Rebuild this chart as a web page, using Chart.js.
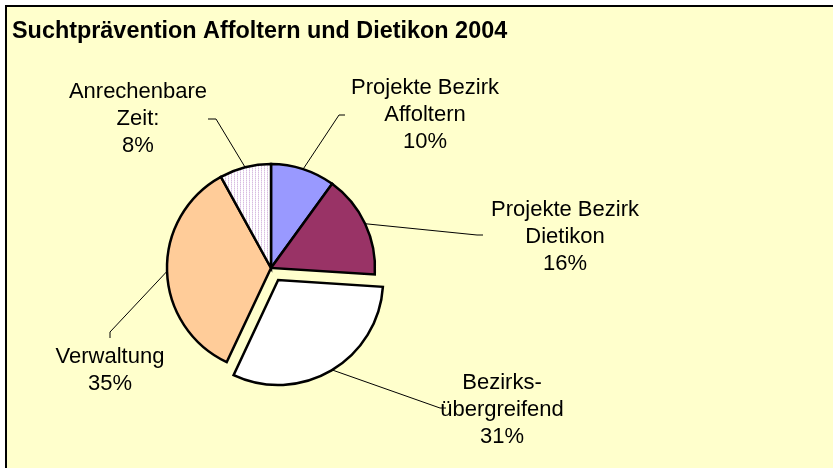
<!DOCTYPE html>
<html>
<head>
<meta charset="utf-8">
<script src="https://cdn.jsdelivr.net/npm/chart.js@4"></script>
<style>
  body { margin: 0; background: #fff; }
  canvas { display: block; }
</style>
</head>
<body>
<canvas id="myChart" width="833" height="468"></canvas>
<script>
const chart_title = 'Suchtprävention Affoltern und Dietikon 2004';
const categories = [['Projekte Bezirk', 'Affoltern'], ['Projekte Bezirk', 'Dietikon'], ['Bezirks-', 'übergreifend'], ['Verwaltung'], ['Anrechenbare', 'Zeit:']];
const shares = [10, 16, 31, 35, 8];
const exploded = [0, 0, 1, 0, 0];

// where the text blocks sit (centre x, middle of first line) and the leader elbow / end
const label_pos = [[425, 88], [565, 210], [502, 383], [110, 357], [138, 92]];
const leader_pts = [
    [[339, 115], [345, 115]],
    [[477, 235], [483, 235]],
    [[440, 408], [446, 408]],
    [[110, 332], [110, 338]],
    [[216, 119], [208, 119]]
];

function dotted_fill() {
    const c = document.createElement('canvas');
    c.width = 3; c.height = 2;
    const g = c.getContext('2d');
    g.fillStyle = '#ffffff';
    g.fillRect(0, 0, 3, 2);
    g.fillStyle = '#d8bce0';
    g.fillRect(0, 0, 1, 1);
    g.fillStyle = '#ece0f2';
    g.fillRect(0, 1, 1, 1);
    return g.createPattern(c, 'repeat');
}

const frame = {
    id: 'frame',
    beforeDraw(chart) {
        const c = chart.ctx;
        c.save();
        c.fillStyle = '#ffffff';
        c.fillRect(0, 0, chart.width, chart.height);
        c.fillStyle = '#ffffcc';
        c.fillRect(6, 6, chart.width - 6, chart.height - 6);
        c.strokeStyle = '#000';
        c.lineWidth = 2;
        c.beginPath();
        c.moveTo(6, chart.height);
        c.lineTo(6, 6);
        c.lineTo(chart.width, 6);
        c.stroke();
        c.fillStyle = '#000';
        c.font = 'bold 23.4px "Liberation Sans", Arial, sans-serif';
        c.textBaseline = 'alphabetic';
        c.textAlign = 'left';
        c.fillText(chart_title, 12, 38);
        c.restore();
    }
};

const slice_labels = {
    id: 'slice_labels',
    afterDatasetsDraw(chart) {
        const c = chart.ctx;
        const meta = chart.getDatasetMeta(0);
        const total = shares.reduce((a, b) => a + b, 0);
        c.save();
        meta.data.forEach((arc, i) => {
            const p = arc.getProps(['x', 'y', 'startAngle', 'endAngle', 'outerRadius']);
            const mid = (p.startAngle + p.endAngle) / 2;
            const shift = (arc.options.offset || 0) / 4;
            const ax = p.x + Math.cos(mid) * (shift + p.outerRadius);
            const ay = p.y + Math.sin(mid) * (shift + p.outerRadius);
            c.strokeStyle = '#000';
            c.lineWidth = 1;
            c.beginPath();
            c.moveTo(ax, ay);
            c.lineTo(leader_pts[i][0][0], leader_pts[i][0][1]);
            c.lineTo(leader_pts[i][1][0], leader_pts[i][1][1]);
            c.stroke();

            const lines = categories[i].concat([Math.round(shares[i] / total * 100) + '%']);
            c.fillStyle = '#000';
            c.font = '22px "Liberation Sans", Arial, sans-serif';
            c.textAlign = 'center';
            c.textBaseline = 'middle';
            lines.forEach((t, k) => {
                c.fillText(t, label_pos[i][0], label_pos[i][1] + k * 27);
            });
        });
        c.restore();
    }
};

function draw_chart() {
    const ctx = document.getElementById('myChart');
    new Chart(ctx, {
        type: 'pie',
        data: {
            labels: categories.map(l => l.join(' ')),
            datasets: [{
                data: shares,
                backgroundColor: ['#9999ff', '#993366', '#ffffff', '#ffcc99', dotted_fill()],
                borderColor: '#000',
                borderWidth: 2.5,
                borderJoinStyle: 'miter',
                offset: exploded.map(e => e * 56),
                hoverOffset: 0,
                radius: 104
            }]
        },
        options: {
            responsive: false,
            animation: false,
            events: [],
            layout: {
                padding: { left: 10, right: 301, top: 100, bottom: 32 }
            },
            plugins: {
                legend: { display: false },
                tooltip: { enabled: false }
            }
        },
        plugins: [frame, slice_labels]
    });
}
draw_chart();
</script>
</body>
</html>
